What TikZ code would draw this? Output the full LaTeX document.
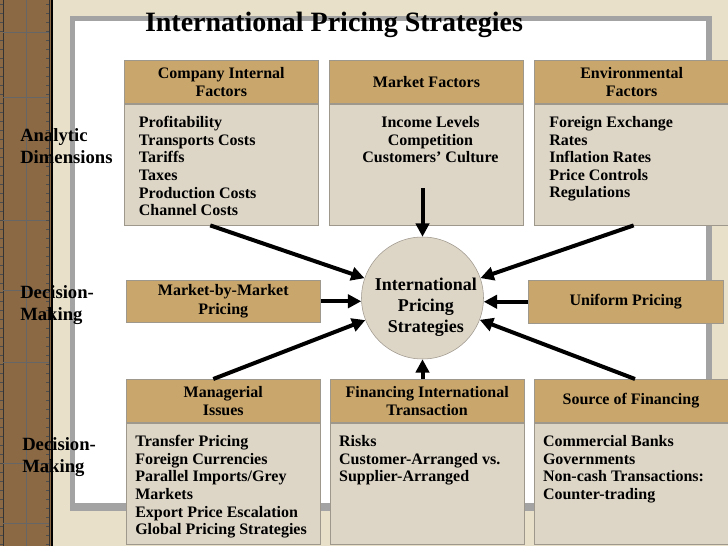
\documentclass[tikz,border=0pt]{standalone}
\usepackage{fontspec}
\setmainfont{Liberation Serif}
\usepackage{xcolor}
\usepackage{tikz}
\usetikzlibrary{arrows.meta,positioning}
\definecolor{parch}{HTML}{E8E0C9}
\definecolor{tan}{HTML}{C9A66B}
\definecolor{pale}{HTML}{DDD6C7}
\definecolor{edge}{HTML}{9E978C}
\definecolor{wood}{HTML}{8A6944}
\definecolor{frame}{HTML}{A3A3A3}

\begin{document}
\begin{tikzpicture}[x=0.75pt, y=-0.75pt, font=\bfseries\fontsize{12}{13.2}\selectfont, node distance=8pt]
\tikzset{head/.style={draw=edge, fill=tan, align=center, minimum width=145.5pt, minimum height=32.25pt, inner sep=0pt, font=\bfseries\fontsize{12}{13.8}\selectfont},
  body/.style={draw=edge, fill=pale, minimum width=145.5pt, minimum height=91pt, inner sep=0pt},
  lines/.style={align=left, inner sep=0pt},
  side/.style={align=left, inner sep=0pt, font=\bfseries\fontsize{14}{16.5}\selectfont},
  arr/.style={line width=3pt, -{Triangle[length=10pt, width=10pt]}}}
% background, wooden strip and white panel
\useasboundingbox (0,0) rectangle (728,546);
\fill[parch] (0,0) rectangle (728,546);
\fill[wood] (0,0) rectangle (53,546);
\draw[black!80] (3,0) -- (3,546) (49,0) -- (49,546);
\draw[black, line width=1.5pt] (52,0) -- (52,546);
\draw[black!60] (26,0) -- (26,546);
\foreach \y in {32,97,220,290,362,463,523} \draw[black!60] (3,\y) -- (49,\y);
\foreach \y in {4,13,...,544} {\draw[black!70] (0,\y) -- (3,\y); \draw[black!70] (46,\y) -- (49,\y);}
\fill[frame] (70,16) rectangle (712,511);
\fill[white] (75,21) rectangle (706,503);
\node[inner sep=0pt, font=\bfseries\fontsize{21}{24}\selectfont] (title) at (334,24.5) {International Pricing Strategies};
% analytic dimensions
\node[head, anchor=north west] (comphd) at (124,60) {Company Internal\\Factors};
\node[head, right=of comphd] (markethd) {Market Factors};
\node[head, right=of markethd] (envirhd) {Environmental\\Factors};
\node[body, below=0pt of comphd] (comp) {};
\node[body, below=0pt of markethd] (market) {};
\node[body, below=0pt of envirhd] (envir) {};
\node[lines, anchor=north west] (comptxt) at ([shift={(11pt,-9.5pt)}]comp.north west) {Profitability\\Transports Costs\\Tariffs\\Taxes\\Production Costs\\Channel Costs};
\node[lines, align=center, anchor=north] (markettxt) at ([shift={(3pt,-9.5pt)}]market.north) {Income Levels\\Competition\\Customers’ Culture};
\node[lines, anchor=north west] (envirtxt) at ([shift={(11pt,-9.5pt)}]envir.north west) {Foreign Exchange\\Rates\\Inflation Rates\\Price Controls\\Regulations};
% centre
\node[circle, draw=edge, fill=pale, minimum size=91.5pt, inner sep=0pt] (ips) at (422.5,298) {};
\node[inner sep=0pt, align=center, font=\bfseries\fontsize{13.5}{15.75}\selectfont] (ipstxt) at ([shift={(2.5pt,-6.75pt)}]ips.center) {International\\Pricing\\Strategies};
\node[head, anchor=north west, minimum height=31.5pt] (mbm) at (126,280) {Market-by-Market\\Pricing};
\node[head, anchor=north west, minimum width=146.25pt] (uniform) at (528,280) {Uniform Pricing};
% decision-making
\node[head, anchor=north west] (managhd) at (126,379) {Managerial\\Issues};
\node[head, right=7pt of managhd] (finhd) {Financing International\\Transaction};
\node[head, right=7pt of finhd] (sourcehd) {Source of Financing};
\node[body, below=0pt of managhd] (manag) {};
\node[body, below=0pt of finhd] (fin) {};
\node[body, below=0pt of sourcehd] (source) {};
\node[lines, anchor=north west] (managtxt) at ([shift={(6.75pt,-9.5pt)}]manag.north west) {Transfer Pricing\\Foreign Currencies\\Parallel Imports/Grey\\Markets\\Export Price Escalation\\Global Pricing Strategies};
\node[lines, anchor=north west] (fintxt) at ([shift={(6.75pt,-9.5pt)}]fin.north west) {Risks\\Customer-Arranged vs.\\Supplier-Arranged};
\node[lines, anchor=north west] (sourcetxt) at ([shift={(6.75pt,-9.5pt)}]source.north west) {Commercial Banks\\Governments\\Non-cash Transactions:\\Counter-trading};
% side labels
\node[side, anchor=west] (analytic) at (20,146.5) {Analytic\\Dimensions};
\node[side, anchor=west] (decmid) at (20,305) {Decision-\\Making};
\node[side, anchor=west] (declow) at (22,457) {Decision-\\Making};
% arrows into the centre
\draw[arr] ([xshift=-8.25pt]comp.south) -- (ips);
\coordinate (mkt) at ([yshift=27.75pt]market.south);
\draw[arr] (mkt -| ips.north) -- (ips.north);
\draw[arr] ([xshift=1.5pt]envir.south) -- (ips);
\draw[arr] (mbm.east) -- (mbm.east -| ips.west);
\draw[arr] (uniform.west) -- (uniform.west -| ips.east);
\draw[arr] ([xshift=-7.5pt]managhd.north) -- (ips);
\draw[arr] (finhd.north -| ips.south) -- (ips.south);
\draw[arr] ([xshift=3pt]sourcehd.north) -- (ips);
\end{tikzpicture}
\end{document}
